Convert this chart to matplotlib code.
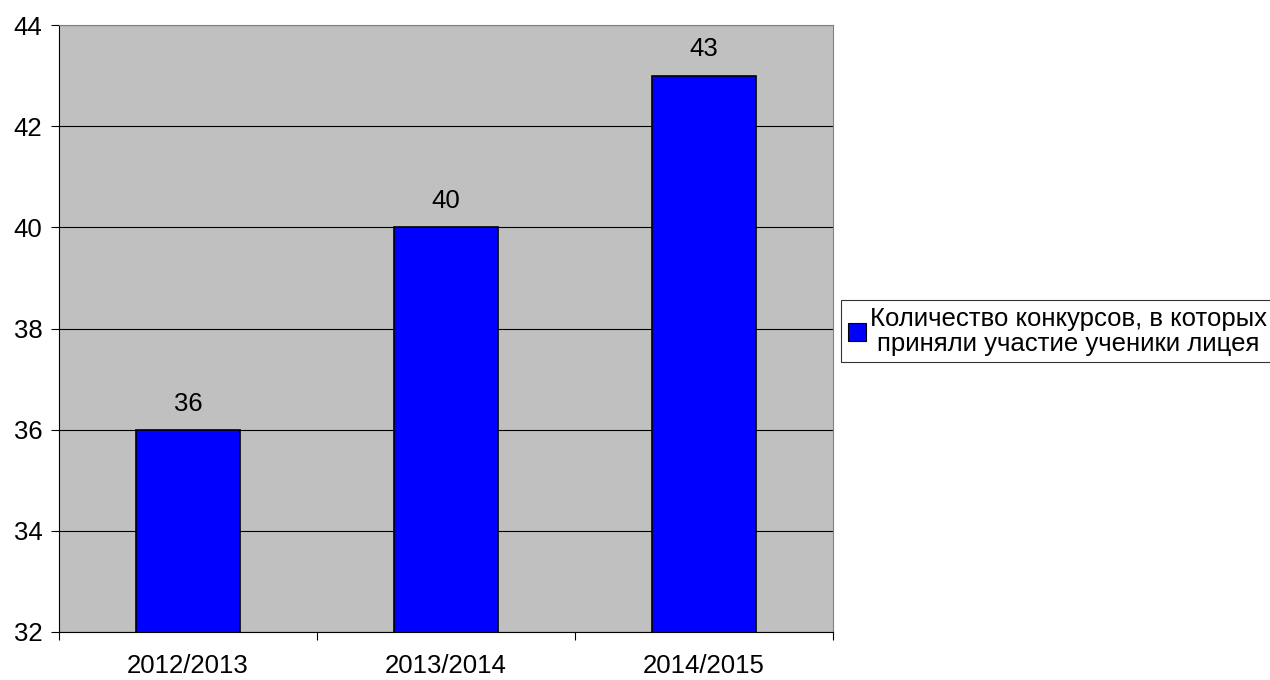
import numpy as np
import matplotlib.pyplot as plt
from matplotlib.patches import Patch

plt.rcParams['font.family'] = ['Liberation Sans', 'DejaVu Sans']

years = ['2012/2013', '2013/2014', '2014/2015']
counts = [36, 40, 43]
series_name = 'Количество конкурсов, в которых\nприняли участие ученики лицея'

fs = 18.5
fig = plt.figure(figsize=(12.7, 6.8), dpi=100)
ax = fig.add_axes([0.0465, 0.0706, 0.6094, 0.8926])
ax.set_facecolor('#c0c0c0')

x = np.arange(len(years))
bars = ax.bar(x, counts, width=0.4, color='#0000ff', edgecolor='black', linewidth=1.2, zorder=3)
for xi, v in zip(x, counts):
    ax.text(xi, v + 0.28, str(v), ha='center', va='bottom', fontsize=fs)

ax.set_ylim(32, 44)
ax.set_xlim(-0.5, len(years) - 0.5)
ax.set_yticks(range(32, 45, 2))
ax.tick_params(axis='y', labelsize=fs, length=6, direction='out', pad=6)
ax.yaxis.grid(True, color='black', linewidth=0.8, zorder=0)
ax.set_axisbelow(True)

# category labels centred, tick marks on boundaries
ax.set_xticks(np.arange(-0.5, len(years), 1.0))
ax.set_xticklabels([])
ax.set_xticks(x, minor=True)
ax.set_xticklabels(years, minor=True, fontsize=fs)
ax.tick_params(axis='x', which='major', length=6, direction='out')
ax.tick_params(axis='x', which='minor', length=0, pad=16)

ax.spines['left'].set_color('black')
ax.spines['bottom'].set_color('black')
ax.spines['top'].set_color('#808080')
ax.spines['right'].set_color('#808080')

handle = Patch(facecolor='#0000ff', edgecolor='black', linewidth=0.8)
leg = fig.legend([handle], [series_name], loc='center left',
                 bbox_to_anchor=(0.6625, 0.513), fontsize=fs, frameon=True,
                 fancybox=False, edgecolor='black', handlelength=0.7,
                 handleheight=0.7, handletextpad=0.15, borderpad=0.25,
                 borderaxespad=0, labelspacing=0.2)
leg.get_frame().set_linewidth(0.8)
for t in leg.get_texts():
    t.set_multialignment('center')
    t.set_linespacing(1.05)

fig.savefig('out.png', dpi=100)
